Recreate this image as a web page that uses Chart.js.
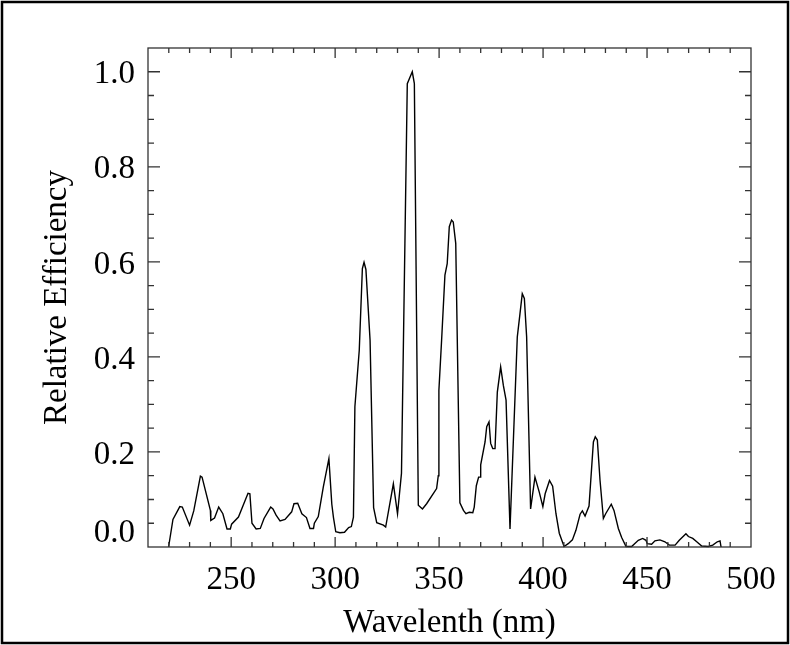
<!DOCTYPE html>
<html>
<head>
<meta charset="utf-8">
<script src="https://cdn.jsdelivr.net/npm/chart.js@4.4.1/dist/chart.umd.min.js"></script>
<style>
  html, body { margin: 0; padding: 0; background: #fff; }
</style>
</head>
<body>
<canvas id="c" width="790" height="645"></canvas>
<script>
// Relative efficiency vs wavelength, IDL-style boxed plot.
const WAVELENGTH = [
  219.9, 222.0, 225.3, 226.5, 230.0, 232.0, 235.2, 236.0, 240.0, 240.2, 242.0, 244.0, 246.0, 248.0, 249.6, 250.2,
  253.5, 258.1, 259.0, 260.0, 262.0, 264.0, 265.8, 269.0, 270.1, 271.6, 273.5, 275.9, 279.1, 280.2, 282.0, 284.0,
  286.2, 287.9, 289.6, 290.0, 291.9, 294.3, 297.0, 298.4, 299.2, 300.3, 302.3, 304.5, 306.5, 307.8, 308.8, 309.5,
  311.6, 313.1, 313.9, 314.8, 316.8, 318.5, 320.0, 323.2, 324.3, 328.0, 330.0, 331.9, 334.7, 337.1, 338.1, 340.0,
  342.0, 344.0, 348.8, 349.6, 349.9, 351.2, 352.8, 353.9, 354.9, 356.0, 356.8, 358.0, 360.0, 361.7, 362.9, 364.5,
  366.2, 366.9, 367.9, 369.0, 369.7, 370.0, 372.1, 372.9, 374.0, 374.8, 375.8, 376.9, 378.0, 379.6, 380.9, 382.2,
  384.1, 387.6, 388.9, 390.0, 391.0, 392.1, 394.0, 396.1, 398.2, 399.9, 401.0, 403.1, 404.6, 406.2, 407.8, 410.1,
  412.1, 414.1, 415.8, 417.8, 418.9, 420.2, 422.1, 424.2, 425.1, 426.1, 427.4, 429.0, 430.1, 432.8, 434.1, 436.2,
  437.8, 439.9, 442.6, 445.8, 447.9, 449.5, 450.1, 452.2, 453.8, 456.2, 458.6, 460.7, 463.5, 465.5, 468.7, 469.9,
  472.0, 473.9, 476.3, 479.5, 481.6, 483.8, 485.1, 485.6
];
const EFFICIENCY = [
  0.000, 0.058, 0.085, 0.084, 0.046, 0.076, 0.149, 0.147, 0.077, 0.056, 0.061, 0.084, 0.070, 0.038, 0.038, 0.048,
  0.063, 0.113, 0.112, 0.050, 0.038, 0.039, 0.060, 0.084, 0.080, 0.067, 0.055, 0.058, 0.074, 0.091, 0.092, 0.070,
  0.062, 0.039, 0.039, 0.050, 0.064, 0.126, 0.186, 0.090, 0.062, 0.032, 0.030, 0.031, 0.041, 0.043, 0.063, 0.295,
  0.414, 0.586, 0.599, 0.584, 0.435, 0.083, 0.051, 0.046, 0.042, 0.133, 0.070, 0.155, 0.975, 1.000, 0.975, 0.088,
  0.080, 0.091, 0.123, 0.150, 0.330, 0.435, 0.572, 0.596, 0.674, 0.688, 0.684, 0.639, 0.093, 0.077, 0.070, 0.073,
  0.072, 0.084, 0.129, 0.147, 0.147, 0.173, 0.221, 0.253, 0.263, 0.218, 0.207, 0.207, 0.326, 0.379, 0.340, 0.309,
  0.038, 0.442, 0.491, 0.533, 0.523, 0.442, 0.080, 0.147, 0.115, 0.085, 0.112, 0.140, 0.128, 0.070, 0.029, 0.001,
  0.007, 0.015, 0.035, 0.069, 0.076, 0.065, 0.086, 0.221, 0.232, 0.225, 0.140, 0.060, 0.070, 0.090, 0.077, 0.039,
  0.020, 0.001, 0.001, 0.014, 0.018, 0.014, 0.007, 0.006, 0.013, 0.015, 0.011, 0.004, 0.004, 0.014, 0.028, 0.022,
  0.018, 0.011, 0.002, 0.001, 0.004, 0.011, 0.013, 0.000
];
const X_TICKS = [250, 300, 350, 400, 450, 500];
const Y_TICKS = [0, 0.2, 0.4, 0.6, 0.8, 1.0];
const Y_LABELS = ["0.0", "0.2", "0.4", "0.6", "0.8", "1.0"];

const SERIF = { family: "'Liberation Serif', 'Times New Roman', serif", size: 33 };
const INK = "#000";
const AXIS = "#333";

// box axes with inward ticks on all four sides, y labels, outer frame
const idlAxes = {
  id: "idlAxes",
  afterDraw(chart) {
    const { ctx, chartArea: a, scales: { x, y } } = chart;
    ctx.save();
    ctx.strokeStyle = AXIS;
    ctx.lineWidth = 1.3;
    ctx.strokeRect(a.left, a.top, a.right - a.left, a.bottom - a.top);

    ctx.beginPath();
    for (let v = 220; v < 500; v += 10) {
      const px = x.getPixelForValue(v);
      const len = v % 50 === 0 ? 10 : 5;
      ctx.moveTo(px, a.bottom); ctx.lineTo(px, a.bottom - len);
      ctx.moveTo(px, a.top); ctx.lineTo(px, a.top + len);
    }
    for (let i = 1; i * 0.05 < 1.05; i++) {
      const py = y.getPixelForValue(i * 0.05);
      const len = i % 4 === 0 ? 12 : 6;
      ctx.moveTo(a.left, py); ctx.lineTo(a.left + len, py);
      ctx.moveTo(a.right, py); ctx.lineTo(a.right - len, py);
    }
    ctx.stroke();

    ctx.fillStyle = INK;
    ctx.font = `${SERIF.size}px ${SERIF.family}`;
    ctx.textAlign = "right";
    ctx.textBaseline = "middle";
    Y_TICKS.forEach((v, i) => {
      const py = y.getPixelForValue(v) + (v === 0 ? -14 : 3);
      ctx.fillText(Y_LABELS[i], a.left - 13, py);
    });

    // window frame, drawn last so it clips the bottom of the x title
    ctx.fillStyle = "#fff";
    ctx.fillRect(0, 642, 790, 3);
    ctx.strokeStyle = INK;
    ctx.lineWidth = 2.5;
    ctx.strokeRect(2, 2, 786, 641);
    ctx.restore();
  },
};

new Chart(document.getElementById("c"), {
  type: "scatter",
  data: {
    datasets: [{
      data: WAVELENGTH.map((w, i) => ({ x: w, y: EFFICIENCY[i] })),
      showLine: true,
      borderColor: INK,
      borderWidth: 1.4,
      pointRadius: 0,
      tension: 0,
      clip: false,
    }],
  },
  options: {
    responsive: false,
    animation: false,
    layout: { padding: { top: 48, right: 39, left: 0, bottom: 0 } },
    plugins: { legend: { display: false }, tooltip: { enabled: false } },
    scales: {
      x: {
        type: "linear",
        min: 210,
        max: 500,
        afterBuildTicks: (s) => { s.ticks = X_TICKS.map((v) => ({ value: v })); },
        afterFit: (s) => { s.height = 98; },
        grid: { display: false, drawTicks: false },
        border: { display: false },
        ticks: { font: SERIF, color: INK, padding: 14, maxRotation: 0, autoSkip: false },
        title: { display: true, text: "Wavelenth (nm)", font: SERIF, color: INK, padding: { top: 0, bottom: 2 } },
      },
      y: {
        min: 0,
        max: 1.05,
        afterBuildTicks: (s) => { s.ticks = Y_TICKS.map((v) => ({ value: v })); },
        afterFit: (s) => { s.width = 148; },
        grid: { display: false, drawTicks: false },
        border: { display: false },
        ticks: { display: false },
        title: { display: true, text: "Relative Efficiency", font: SERIF, color: INK, padding: { top: 38, bottom: 0 } },
      },
    },
  },
  plugins: [idlAxes],
});
</script>
</body>
</html>
